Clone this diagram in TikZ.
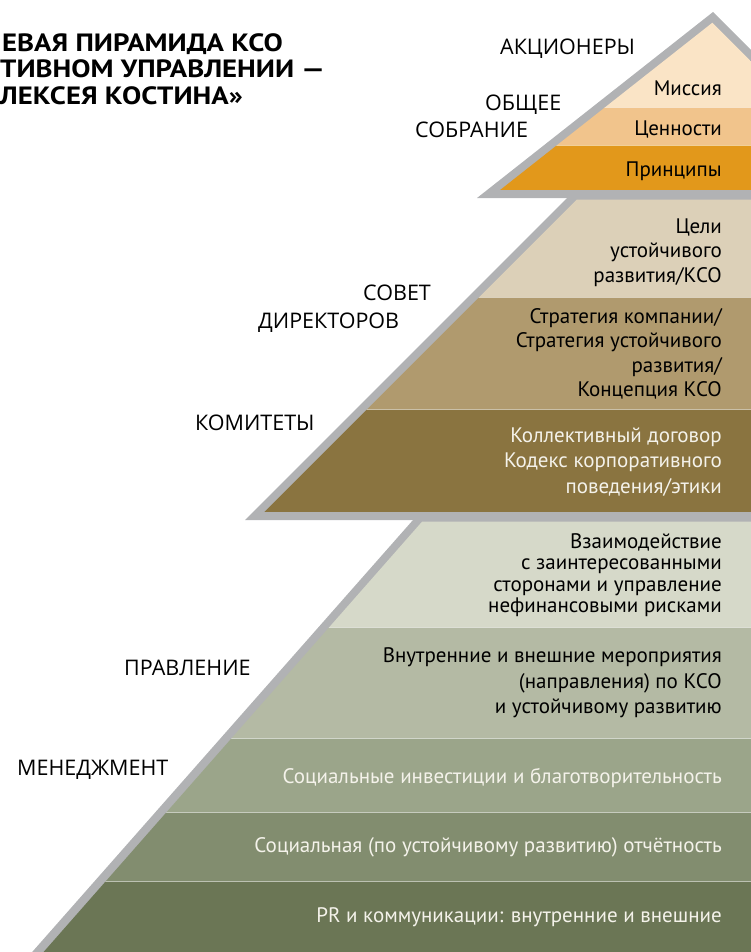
\documentclass[tikz,border=0pt]{standalone}
\usepackage{fontspec}
\setmainfont{PT Sans}
\newfontfamily\labelfont{Open Sans}
\newfontfamily\headfont[FakeStretch=1.15]{PT Sans}

% frame and band colours
\definecolor{frame}{HTML}{B1B2B4}
\definecolor{cMission}{HTML}{FAE4C6}
\definecolor{cValues}{HTML}{F1C48C}
\definecolor{cPrinciples}{HTML}{E2981B}
\definecolor{cGoals}{HTML}{DCD0B8}
\definecolor{cStrategy}{HTML}{B09A6E}
\definecolor{cCode}{HTML}{8A7440}
\definecolor{cStake}{HTML}{D6D9C9}
\definecolor{cEvents}{HTML}{B4BAA4}
\definecolor{cInvest}{HTML}{9BA58A}
\definecolor{cReport}{HTML}{828D6F}
\definecolor{cPR}{HTML}{6B7655}
\definecolor{paleText}{HTML}{F4F2EA}

% multi-line nodes are placed by the baseline of their last line
\tikzset{
  sepline/.style={draw=white, draw opacity=0.55, line width=0.8pt},
  bandtext/.style={anchor=base east, inner sep=0pt, align=right,
    font=\fontsize{21}{24.5}\selectfont, text=black},
  lighttext/.style={bandtext, text=paleText},
  level/.style={anchor=base west, inner sep=0pt,
    font=\labelfont\fontsize{21.5}{26}\selectfont, text=black},
  headline/.style={anchor=base east, inner sep=0pt,
    font=\headfont\bfseries\fontsize{25}{26}\selectfont, text=black},
}

\begin{document}
\begin{tikzpicture}[x=1pt,y=-1pt]
\useasboundingbox (0,0) rectangle (750,952);

% ---------- top triangle: mission, values, principles ----------
\fill[frame] (713,12) -- (770,69) -- (770,198) -- (477,198) -- cycle;
\begin{scope}
  \clip (712.4,22.7) -- (770,80.3) -- (770,190) -- (500.1,190) -- cycle;
  \fill[cMission]    (470,0)     rectangle (770,107.5);
  \fill[cValues]     (470,107.5) rectangle (770,145);
  \fill[cPrinciples] (470,145)   rectangle (770,190);
  \draw[sepline] (470,107.5) -- (770,107.5);
  \draw[sepline] (470,145) -- (770,145);
\end{scope}

% ---------- middle trapezoid: goals, strategy, codes ----------
\fill[frame] (567,198) -- (770,198) -- (770,520) -- (245,520) -- cycle;
\begin{scope}
  \clip (576.8,199.5) -- (770,199.5) -- (770,512) -- (264.3,512) -- cycle;
  \fill[cGoals]    (240,195) rectangle (770,297);
  \fill[cStrategy] (240,297) rectangle (770,409);
  \fill[cCode]     (240,409) rectangle (770,512);
  \draw[sepline] (240,297) -- (770,297);
  \draw[sepline] (240,409) -- (770,409);
\end{scope}

% ---------- bottom trapezoid: management level ----------
\fill[frame] (413,520) -- (770,520) -- (770,960) -- (25.1,960) -- cycle;
\begin{scope}
  \clip (422.2,521.5) -- (770,521.5) -- (770,960) -- (36.5,960) -- cycle;
  \fill[cStake]  (20,515) rectangle (770,627);
  \fill[cEvents] (20,627) rectangle (770,738);
  \fill[cInvest] (20,738) rectangle (770,812);
  \fill[cReport] (20,812) rectangle (770,881);
  \fill[cPR]     (20,881) rectangle (770,960);
  \draw[sepline] (20,627) -- (770,627);
  \draw[sepline] (20,738) -- (770,738);
  \draw[sepline] (20,812) -- (770,812);
  \draw[sepline] (20,881) -- (770,881);
\end{scope}

% ---------- band texts ----------
\node[bandtext] (mission)    at (722,96)  {Миссия};
\node[bandtext] (values)     at (722,136) {Ценности};
\node[bandtext] (principles) at (722,177) {Принципы};

\node[bandtext] (goals)    at (722,282) {Цели\\устойчивого\\развития/КСО};
\node[bandtext] (strategy) at (722,396.5) {Стратегия компании/\\Стратегия устойчивого\\развития/\\Концепция КСО};
\node[lighttext, font=\fontsize{21}{25.5}\selectfont] (codes) at (722,493)
  {Коллективный договор\\Кодекс корпоративного\\поведения/этики};

\node[bandtext, font=\fontsize{21}{21.5}\selectfont] (stake) at (722,612.5)
  {Взаимодействие\\с заинтересованными\\сторонами и управление\\нефинансовыми рисками};
\node[bandtext, font=\fontsize{21}{25.5}\selectfont] (events) at (722,713.5)
  {Внутренние и внешние мероприятия\\(направления) по КСО\\и устойчивому развитию};
\node[lighttext] (invest) at (722,783) {Социальные инвестиции и благотворительность};
\node[lighttext] (report) at (722,852) {Социальная (по устойчивому развитию) отчётность};
\node[lighttext] (pr)     at (722,922) {PR и коммуникации: внутренние и внешние};

% ---------- governance levels ----------
\node[level] (shareholders) at (500,55)  {АКЦИОНЕРЫ};
\node[level] (general1)     at (485,111) {ОБЩЕЕ};
\node[level] (general2)     at (415,138) {СОБРАНИЕ};
\node[level] (board1)       at (363,300) {СОВЕТ};
\node[level] (board2)       at (258,328) {ДИРЕКТОРОВ};
\node[level] (committees)   at (195,430) {КОМИТЕТЫ};
\node[level] (executive)    at (124,675) {ПРАВЛЕНИЕ};
\node[level] (management)   at (17,775)  {МЕНЕДЖМЕНТ};

% ---------- heading (runs off the left edge) ----------
\node[headline] (head1) at (283,52)  {ЕВАЯ ПИРАМИДА КСО};
\node[headline, anchor=base west] (head2) at (0,78) {ТИВНОМ УПРАВЛЕНИИ —};
\node[headline] (head3) at (243,105) {ЛЕКСЕЯ КОСТИНА»};
\end{tikzpicture}
\end{document}
